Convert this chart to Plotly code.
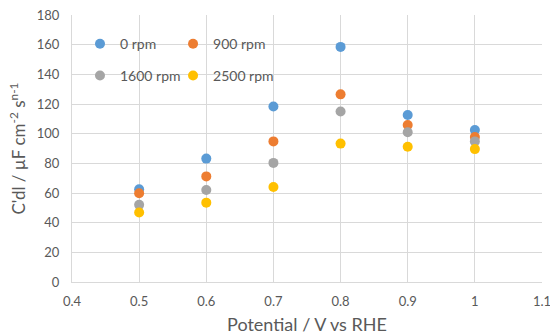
import plotly.graph_objects as go

potential = [0.5, 0.6, 0.7, 0.8, 0.9, 1.0]
rpm0 = [62.5, 83.2, 118.3, 158.5, 112.6, 102.5]
rpm900 = [59.8, 71.2, 94.8, 126.5, 105.8, 97.8]
rpm1600 = [52.0, 62.0, 80.3, 115.0, 101.0, 94.8]
rpm2500 = [46.8, 53.5, 64.0, 93.3, 91.2, 89.6]

x_ticks = [0.4, 0.5, 0.6, 0.7, 0.8, 0.9, 1.0, 1.1]
x_ticktext = ["0.4", "0.5", "0.6", "0.7", "0.8", "0.9", "1", "1.1"]

series = [
    ("0 rpm", rpm0, "#5B9BD5", "legend"),
    ("900 rpm", rpm900, "#ED7D31", "legend2"),
    ("1600 rpm", rpm1600, "#A5A5A5", "legend3"),
    ("2500 rpm", rpm2500, "#FFC000", "legend4"),
]

fig = go.Figure()
for name, vals, color, lg in series:
    fig.add_trace(go.Scatter(
        x=potential, y=vals, mode="markers", name=name,
        marker=dict(color=color, size=10, line=dict(width=0)),
        legend=lg,
    ))

font_family = "Lato, 'Open Sans', sans-serif"
grid = "#D9D9D9"
txt = "#595959"

leg_common = dict(
    orientation="h", bgcolor="rgba(0,0,0,0)", borderwidth=0,
    font=dict(family=font_family, size=14, color=txt),
    itemwidth=30, xanchor="left", yanchor="middle",
)

fig.update_layout(
    width=550, height=335,
    margin=dict(l=72, r=8, t=15, b=53, autoexpand=False),
    paper_bgcolor="white", plot_bgcolor="white",
    font=dict(family=font_family, color=txt, size=13),
    showlegend=True,
    legend=dict(x=0.017, y=0.891, **leg_common),
    legend2=dict(x=0.215, y=0.891, **leg_common),
    legend3=dict(x=0.017, y=0.772, **leg_common),
    legend4=dict(x=0.215, y=0.772, **leg_common),
    xaxis=dict(
        range=[0.4, 1.1],
        showgrid=True, gridcolor=grid, gridwidth=1,
        showline=True, linecolor=grid, linewidth=1,
        zeroline=False, ticks="", automargin=False,
        tickvals=x_ticks, ticktext=x_ticktext,
        ticklabeloverflow="allow", ticklabelstandoff=7,
        tickfont=dict(size=13, color=txt),
        title=dict(text="Potential / V vs RHE", font=dict(size=18, color=txt), standoff=10),
    ),
    yaxis=dict(
        range=[0, 180], dtick=20,
        showgrid=True, gridcolor=grid, gridwidth=1,
        showline=True, linecolor=grid, linewidth=1,
        zeroline=False, ticks="", automargin=False,
        ticklabelstandoff=9,
        tickfont=dict(size=13, color=txt),
        title=dict(text="C'dl / µF cm<sup>-2</sup> s<sup>n-1</sup>", font=dict(size=17, color=txt), standoff=6),
    ),
)

fig.write_html(
    "out.html",
    config={"displayModeBar": False},
    post_script="document.body.style.margin='0';document.body.style.padding='0';",
)
